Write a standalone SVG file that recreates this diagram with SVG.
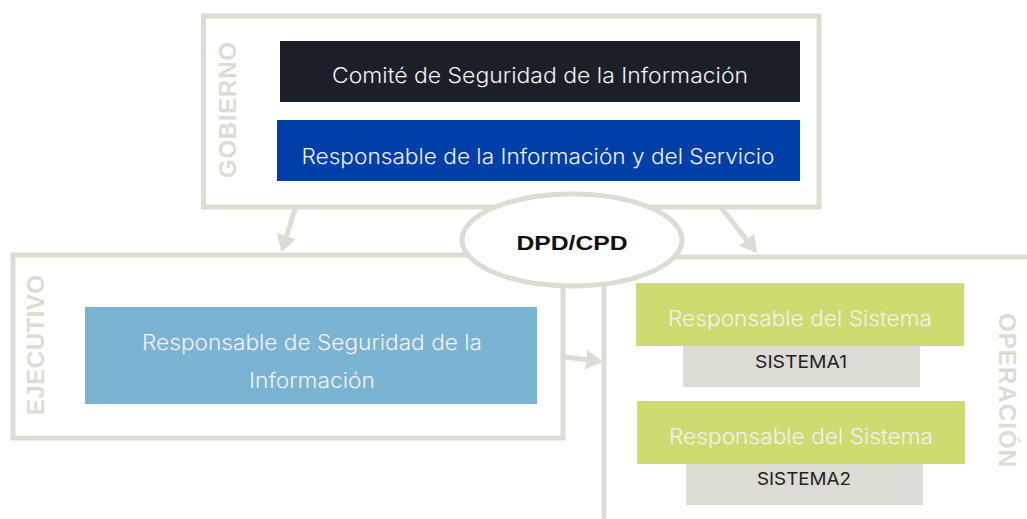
<svg xmlns="http://www.w3.org/2000/svg" width="1027" height="519" viewBox="0 0 1027 519">
<style>
.frame{fill:none;stroke:#dddcd3;stroke-width:5}
.conn{fill:none;stroke:#dddcd3;stroke-width:5}
.lbl{font-family:"Liberation Sans",Arial,sans-serif;font-weight:bold;font-size:24px;fill:#dddcd3;text-anchor:middle}
.t{font-family:Inter,"Liberation Sans",Arial,sans-serif;font-weight:300;font-size:21px;fill:#f2f2f2;text-anchor:middle}
.s{font-family:Inter,"Liberation Sans",Arial,sans-serif;font-weight:400;font-size:17px;fill:#222;text-anchor:middle}
</style>
<defs>
<marker id="ah" viewBox="0 -10 17 20" refX="0" refY="0" markerWidth="17" markerHeight="20" markerUnits="userSpaceOnUse" orient="auto">
<path d="M0,-10 L17,0 L0,10 z" fill="#dddcd3"/>
</marker>
</defs>
<rect width="1027" height="519" fill="#ffffff"/>

<g id="gobierno">
<rect class="frame" x="203.5" y="16" width="615.5" height="191"/>
<text class="lbl" transform="translate(236,110) rotate(-90)" textLength="136" lengthAdjust="spacing">GOBIERNO</text>
</g>
<g id="ejecutivo">
<rect class="frame" x="13" y="255" width="550" height="183"/>
<text class="lbl" transform="translate(44,345) rotate(-90)" textLength="140" lengthAdjust="spacing">EJECUTIVO</text>
</g>
<g id="operacion">
<path class="frame" d="M1030,257 H604 V525"/>
<text class="lbl" transform="translate(999,390) rotate(90)" textLength="154" lengthAdjust="spacing">OPERACIÓN</text>
</g>

<g id="connectors">
<line class="conn" x1="296" y1="206" x2="286.5" y2="236" marker-end="url(#ah)"/>
<line class="conn" x1="720" y1="206" x2="746.5" y2="239.6" marker-end="url(#ah)"/>
<line class="conn" x1="565" y1="357" x2="586" y2="359.7" marker-end="url(#ah)"/>
</g>

<g id="dpd">
<ellipse cx="572" cy="240" rx="110" ry="46" fill="#ffffff" stroke="#dddcd3" stroke-width="5"/>
<text x="572" y="250" font-family="'Liberation Sans',Arial,sans-serif" font-weight="bold" font-size="21" fill="#111" text-anchor="middle" textLength="111" lengthAdjust="spacingAndGlyphs">DPD/CPD</text>
</g>

<g id="comite">
<rect x="280" y="41" width="520" height="61" fill="#1b1f27"/>
<text class="t" x="540" y="83" textLength="416" lengthAdjust="spacingAndGlyphs">Comité de Seguridad de la Información</text>
</g>
<g id="resp-info">
<rect x="277" y="120" width="523" height="61" fill="#003ea8"/>
<text class="t" x="538" y="164" textLength="473" lengthAdjust="spacingAndGlyphs">Responsable de la Información y del Servicio</text>
</g>
<g id="resp-seg">
<rect x="85" y="307" width="452" height="97" fill="#7bb3d3"/>
<text class="t" x="312" y="350" textLength="340" lengthAdjust="spacingAndGlyphs">Responsable de Seguridad de la</text>
<text class="t" x="312" y="388" textLength="126" lengthAdjust="spacingAndGlyphs">Información</text>
</g>
<g id="sistema1">
<rect x="683" y="346" width="237" height="41" fill="#dcdcd4"/>
<rect x="636" y="283" width="328" height="63" fill="#cfdb70"/>
<text class="t" x="800" y="326" textLength="264" lengthAdjust="spacingAndGlyphs">Responsable del Sistema</text>
<text class="s" x="801" y="368" textLength="92" lengthAdjust="spacingAndGlyphs">SISTEMA1</text>
</g>
<g id="sistema2">
<rect x="686" y="464" width="237" height="41" fill="#dcdcd4"/>
<rect x="637" y="401" width="328" height="63" fill="#cfdb70"/>
<text class="t" x="801" y="444" textLength="264" lengthAdjust="spacingAndGlyphs">Responsable del Sistema</text>
<text class="s" x="804" y="485" textLength="94" lengthAdjust="spacingAndGlyphs">SISTEMA2</text>
</g>
</svg>
